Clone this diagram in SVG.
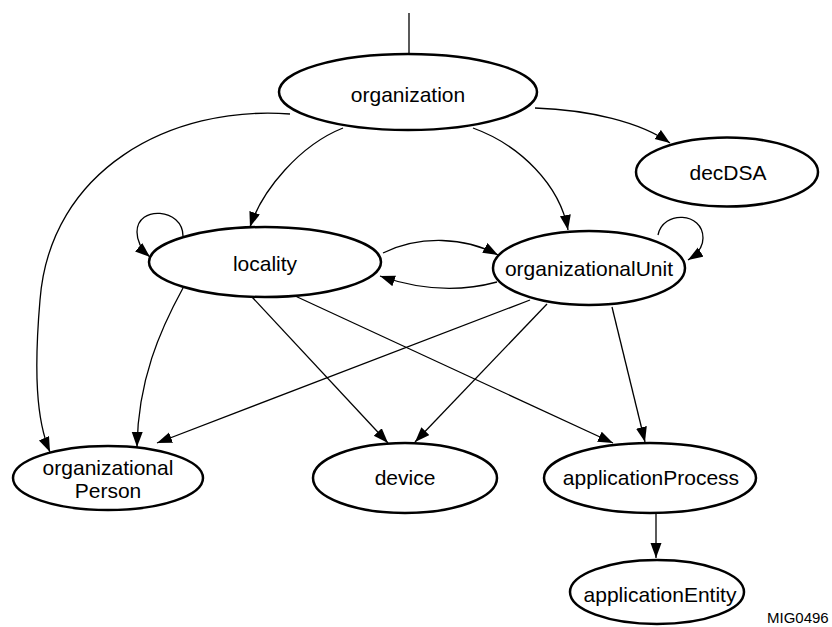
<svg xmlns="http://www.w3.org/2000/svg" width="832" height="627" viewBox="0 0 832 627">
<style>
.node ellipse{fill:#fff;stroke:#000;stroke-width:2.5}
.node text{font-family:"Liberation Sans",Arial,sans-serif;font-size:21px;text-anchor:middle;fill:#000}
.edge{fill:none;stroke:#000;stroke-width:1.3}
.arr{marker-end:url(#ah)}
.note{font-family:"Liberation Sans",Arial,sans-serif;font-size:15px;fill:#000}
</style>
<defs>
<marker id="ah" markerUnits="userSpaceOnUse" markerWidth="16" markerHeight="12" refX="15" refY="5.5" orient="auto">
<path d="M0,0 L15,5.5 L0,11 z" fill="#000"/>
</marker>
</defs>
<rect width="832" height="627" fill="#fff"/>
<g id="connectors">
<path class="edge" d="M409,13 L409,54"/>
<path class="edge arr" d="M535,108 C590,110 640,122 670,143"/>
<path class="edge arr" d="M343,128 C300,145 262,190 250,227"/>
<path class="edge arr" d="M473,128 C520,145 560,185 568,230"/>
<path class="edge arr" d="M290,114 C170,105 50,170 40,300 C34,370 36,420 50,452"/>
<path class="edge arr" d="M183,236 C183,208 137,205 137,232 C137,243 143,251 150,257"/>
<path class="edge arr" d="M658,235 C663,210 703,212 703,238 C703,248 696,255 688,260"/>
<path class="edge arr" d="M383,253 C420,235 465,237 498,255"/>
<path class="edge arr" d="M497,282 C460,292 420,290 380,276"/>
<path class="edge arr" d="M183,288 C160,330 138,380 137,447"/>
<path class="edge arr" d="M530,300 L157,443"/>
<path class="edge arr" d="M252,297 L388,443"/>
<path class="edge arr" d="M547,304 L415,442"/>
<path class="edge arr" d="M293,295 L613,443"/>
<path class="edge arr" d="M612,307 L645,442"/>
<path class="edge arr" d="M656,513 L656,558"/>
</g>
<g id="organization" class="node"><ellipse cx="408" cy="92" rx="129" ry="38"/><text x="408" y="102">organization</text></g>
<g id="decDSA" class="node"><ellipse cx="727" cy="172" rx="91" ry="34.5"/><text x="728" y="180">decDSA</text></g>
<g id="locality" class="node"><ellipse cx="265" cy="262" rx="116" ry="35"/><text x="265" y="271">locality</text></g>
<g id="organizationalUnit" class="node"><ellipse cx="589" cy="268" rx="96" ry="37"/><text x="589" y="276">organizationalUnit</text></g>
<g id="organizationalPerson" class="node"><ellipse cx="108" cy="478" rx="95" ry="32"/><text x="108" y="475">organizational</text><text x="108" y="498">Person</text></g>
<g id="device" class="node"><ellipse cx="405" cy="478" rx="92" ry="35"/><text x="405" y="485">device</text></g>
<g id="applicationProcess" class="node"><ellipse cx="650" cy="478" rx="106" ry="35"/><text x="651" y="485">applicationProcess</text></g>
<g id="applicationEntity" class="node"><ellipse cx="657" cy="592" rx="87" ry="32"/><text x="660" y="602">applicationEntity</text></g>
<text class="note" x="767" y="623">MIG0496</text>
</svg>
